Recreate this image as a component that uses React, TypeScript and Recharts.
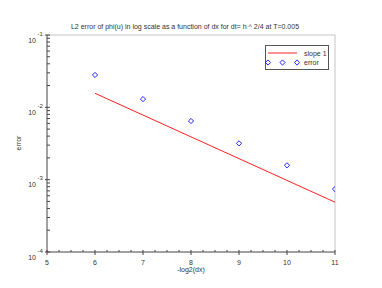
import React from "react";
import {
  ComposedChart,
  Line,
  Scatter,
  XAxis,
  YAxis,
  Legend,
  ReferenceLine
} from "recharts";

// -log2(dx)
const xValues = [6, 7, 8, 9, 10, 11];
// measured L2 error of phi(u)
const errorValues = [0.028, 0.013, 0.00647, 0.00318, 0.00158, 0.00074];
// reference line of slope 1 (dx itself)
const slopeValues = [0.015625, 0.0078125, 0.00390625, 0.001953125, 0.0009765625, 0.00048828125];

const xTicks = [
  5, 5.25, 5.5, 5.75, 6, 6.25, 6.5, 6.75, 7, 7.25, 7.5, 7.75, 8, 8.25, 8.5, 8.75,
  9, 9.25, 9.5, 9.75, 10, 10.25, 10.5, 10.75, 11
];
const yTicks = [
  0.0001, 0.0002, 0.0003, 0.0004, 0.0005, 0.0006, 0.0007, 0.0008, 0.0009,
  0.001, 0.002, 0.003, 0.004, 0.005, 0.006, 0.007, 0.008, 0.009,
  0.01, 0.02, 0.03, 0.04, 0.05, 0.06, 0.07, 0.08, 0.09,
  0.1
];

const title = "L2 error of phi(u) in log scale as a function of dx for dt= h ^ 2/4 at T=0.005";

const data = xValues.map((x, i) => ({
  x,
  error: errorValues[i],
  slope: slopeValues[i]
}));

const FONT = "'Liberation Sans', Arial, sans-serif";
const TEXT = "#333";
const AXIS = "#444";

function XTick(props: any) {
  const { x, y, payload } = props;
  const major = Number.isInteger(payload.value);
  return (
    <g>
      <line x1={x} x2={x} y1={major ? y + 3 : y} y2={y - 2} stroke={AXIS} />
      {major && (
        <text x={x} y={y + 12.5} textAnchor="middle" fontSize={7} fill={TEXT} fontFamily={FONT}>
          {payload.value}
        </text>
      )}
    </g>
  );
}

function YTick(props: any) {
  const { x, y, payload } = props;
  const exp = Math.round(Math.log10(payload.value));
  const major = Math.abs(payload.value / Math.pow(10, exp) - 1) < 1e-6;
  return (
    <g>
      <line x1={major ? x - 2 : x} x2={x + 3} y1={y} y2={y} stroke={AXIS} />
      {major && (
        <text x={x - 11} y={y + 7.5} textAnchor="end" fontSize={7} fill={TEXT} fontFamily={FONT}>
          10
        </text>
      )}
      {major && (
        <text x={x - 9.5} y={y + 0.5} fontSize={6} fill={TEXT} fontFamily={FONT}>
          {exp}
        </text>
      )}
    </g>
  );
}

function Diamond(props: any) {
  const { cx, cy } = props;
  if (cx == null || cy == null) return null;
  const r = 2.6;
  return (
    <path
      d={`M${cx},${cy - r}L${cx + r},${cy}L${cx},${cy + r}L${cx - r},${cy}Z`}
      fill="none"
      stroke="#2222ff"
      strokeWidth={1}
    />
  );
}

function LegendBox() {
  return (
    <svg width={64} height={25} style={{ display: "block" }}>
      <rect x={0.5} y={0.5} width={63} height={24} fill="#fff" stroke="#555" />
      <line x1={3} x2={32} y1={8} y2={8} stroke="#ff2020" />
      <text x={39} y={10.5} fontSize={7} fill={TEXT} fontFamily={FONT}>slope 1</text>
      {[3, 17.5, 32].map((cx) => (
        <Diamond key={cx} cx={cx} cy={17.5} />
      ))}
      <text x={39} y={20} fontSize={7} fill={TEXT} fontFamily={FONT}>error</text>
    </svg>
  );
}

export default function App() {
  return (
    <div
      style={{
        position: "absolute",
        left: 0,
        top: 0,
        width: 382,
        height: 288,
        background: "#fff",
        fontFamily: FONT
      }}
    >
      <div
        style={{
          position: "absolute",
          left: 0,
          top: 23,
          width: 370,
          textAlign: "center",
          fontSize: 7,
          color: TEXT,
          whiteSpace: "nowrap"
        }}
      >
        {title}
      </div>
      <ComposedChart
        width={382}
        height={288}
        data={data}
        margin={{ top: 35, right: 47, bottom: 0, left: 0 }}
      >
        <XAxis
          dataKey="x"
          type="number"
          domain={[5, 11]}
          ticks={xTicks}
          interval={0}
          allowDataOverflow
          height={36}
          stroke={AXIS}
          tickLine={false}
          tickSize={0}
          tickMargin={0}
          tick={<XTick />}
          label={{
            content: () => (
              <text x={191} y={272} textAnchor="middle" fontSize={7} fill={TEXT} fontFamily={FONT}>
                -log2(dx)
              </text>
            )
          }}
        />
        <YAxis
          type="number"
          scale="log"
          domain={[0.0001, 0.1]}
          ticks={yTicks}
          interval={0}
          allowDataOverflow
          width={47}
          stroke={AXIS}
          tickLine={false}
          tickSize={0}
          tickMargin={0}
          tick={<YTick />}
          label={{
            content: () => (
              <text
                transform="translate(21,143) rotate(-90)"
                textAnchor="middle"
                fontSize={7}
                fill={TEXT}
                fontFamily={FONT}
              >
                error
              </text>
            )
          }}
        />
        <ReferenceLine y={0.1} stroke="#c4c4c4" />
        <ReferenceLine x={11} stroke="#c4c4c4" />
        <Line
          dataKey="slope"
          stroke="#ff2020"
          strokeWidth={1}
          dot={false}
          isAnimationActive={false}
        />
        <Scatter dataKey="error" shape={<Diamond />} isAnimationActive={false} />
        <Legend
          layout="horizontal"
          verticalAlign="middle"
          align="center"
          width={64}
          wrapperStyle={{ left: 265, top: 45, width: 64, height: 25 }}
          content={<LegendBox />}
        />
      </ComposedChart>
    </div>
  );
}
